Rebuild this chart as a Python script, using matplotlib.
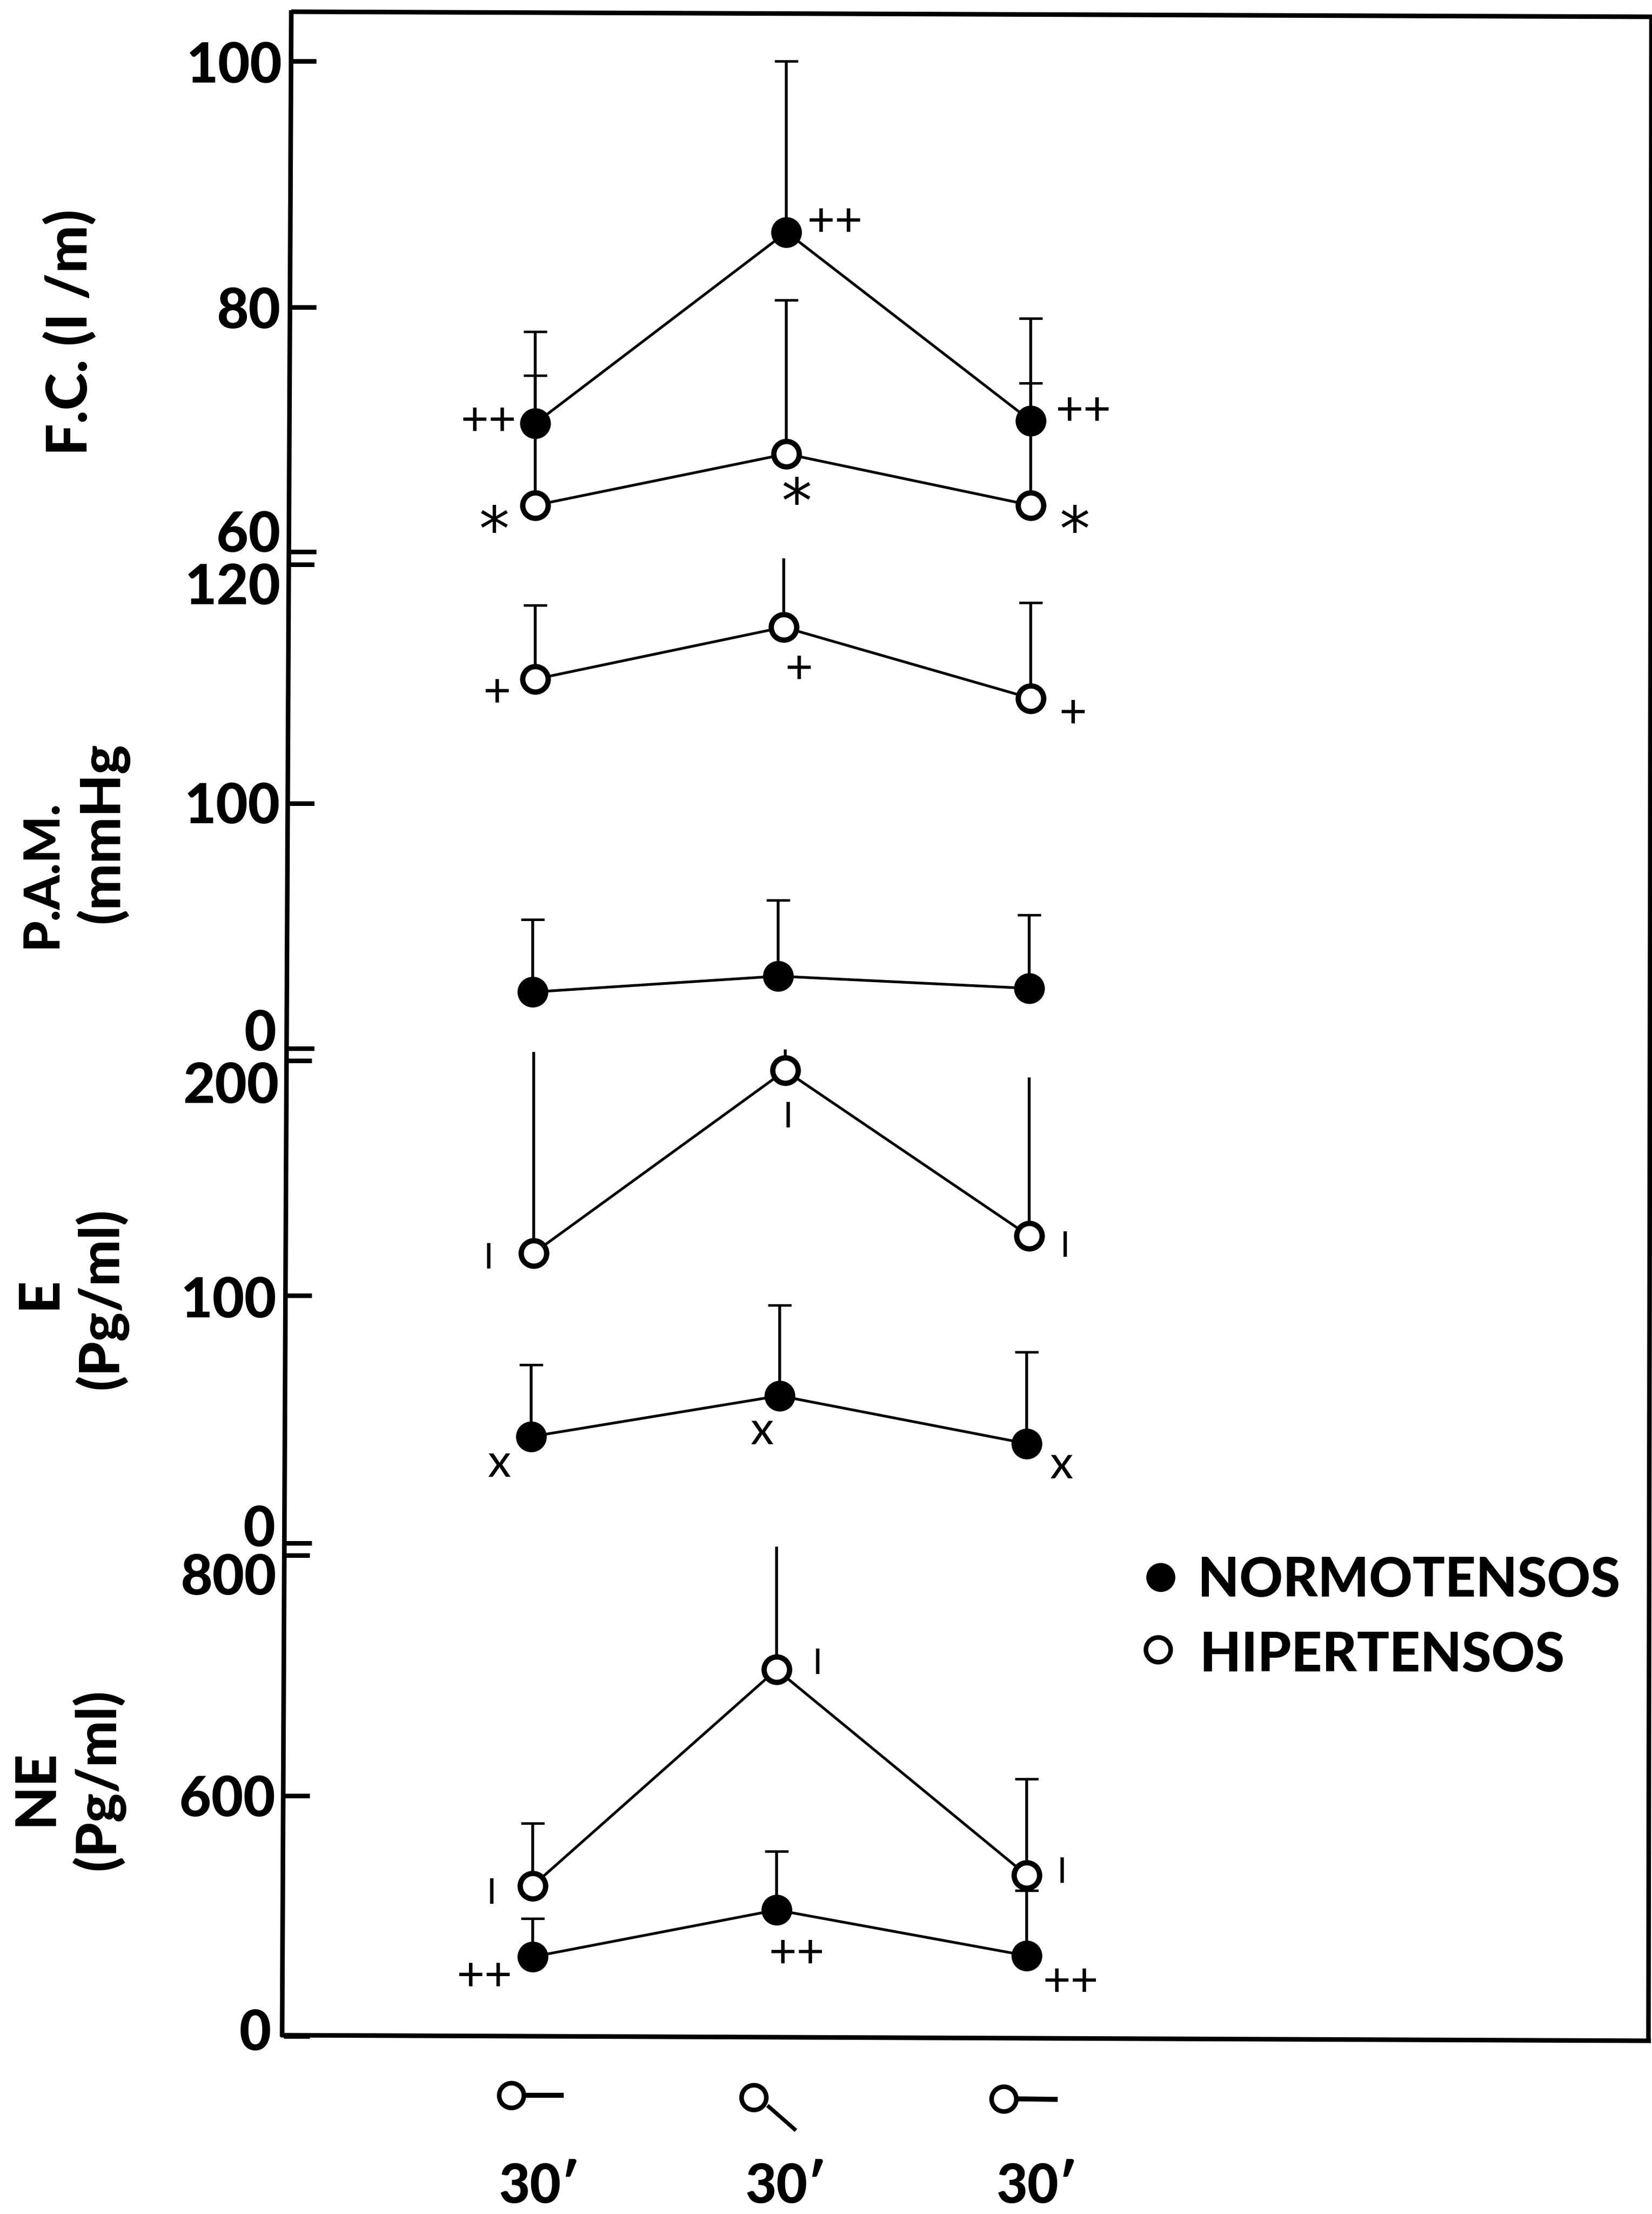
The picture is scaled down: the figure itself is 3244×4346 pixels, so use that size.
import numpy as np
import matplotlib
matplotlib.use("Agg")
import matplotlib.pyplot as plt
from matplotlib.lines import Line2D
from matplotlib.transforms import ScaledTranslation

plt.rcParams['font.family'] = ['Lato', 'DejaVu Sans']

W, H = 3244, 4346

# data: x = position 0,1,2, top = end of the error bar
fc_ticks = [100, 80, 60]
fc_labels = ['100', '80', '60']
fc_norm_x = [0.0, 1.014, 2.0]
fc_norm = [70.5, 86.1, 70.7]
fc_norm_top = [78.0, 100.0, 79.1]
fc_hip_x = [0.0, 1.014, 2.0]
fc_hip = [63.8, 68.0, 63.8]
fc_hip_top = [74.4, 80.6, 73.8]

pam_ticks = [120, 100, 80]
pam_labels = ['120', '100', '0']
pam_hip_x = [0.0, 1.003, 2.0]
pam_hip = [110.4, 114.75, 108.8]
pam_hip_top = [116.6, 120.5, 116.8]
pam_norm_x = [-0.011, 0.98, 1.994]
pam_norm = [84.6, 85.9, 84.9]
pam_norm_top = [90.5, 92.1, 90.9]

e_ticks = [200, 100, 0]
e_labels = ['200', '100', '0']
e_hip_x = [-0.006, 1.009, 1.994]
e_hip = [118.1, 195.8, 125.3]
e_hip_top = [203.6, 204.8, 192.8]
e_norm_x = [-0.017, 0.986, 1.983]
e_norm = [43, 59.5, 40.2]
e_norm_top = [72.1, 96, 77.2]

ne_ticks = [800, 600, 400]
ne_labels = ['800', '600', '0']
ne_hip_x = [-0.011, 0.974, 1.983]
ne_hip = [525, 705, 534]
ne_hip_top = [577, 807, 614]
ne_norm_x = [-0.011, 0.974, 1.983]
ne_norm = [466, 505, 467]
ne_norm_top = [498, 554, 521]

BOLD = 900


def fx(x):
    return x / W


def fy(y):
    return 1 - y / H


def put(x, y, s, size=80, weight=BOLD, **kw):
    # x, y in picture pixels, baseline anchored unless told otherwise
    kw.setdefault('ha', 'center')
    kw.setdefault('va', 'baseline')
    return fig.text(fx(x), fy(y), s, fontsize=size, fontweight=weight, color='k', **kw)


def seg(x0, y0, x1, y1, lw):
    fig.add_artist(Line2D([fx(x0), fx(x1)], [fy(y0), fy(y1)], color='k', lw=lw,
                          solid_capstyle='butt'))


def ring(x, y):
    fig.add_artist(Line2D([fx(x)], [fy(y)], ls='none', marker='o', ms=35, mfc='w', mec='k', mew=6.5))


def series(ax, x, y, top, filled, nocap=()):
    for i in range(3):
        _, caps, bars = ax.errorbar(x[i], y[i], yerr=[[0], [top[i] - y[i]]], fmt='none', ecolor='k',
                                    elinewidth=4, capsize=0 if i in nocap else 16.5, capthick=3.5,
                                    zorder=2)
        for a in list(caps) + list(bars):
            a.set_clip_on(False)
    ax.plot(x, y, color='k', lw=3.8, zorder=3, clip_on=False)
    ax.plot(x, y, ls='none', marker='o', ms=36, mew=7.5, mec='k', mfc='k' if filled else 'w',
            zorder=4, clip_on=False)


def panel(tick_px, left_px, ticks, labels, rights, bases):
    # the drawn axes are not quite even: the two halves get their own scale
    hi, mid, lo = ticks
    top_px, mid_px, bot_px = tick_px
    f = (bot_px - mid_px) / (bot_px - top_px)

    def fwd(v):
        v = np.asarray(v, dtype=float)
        return np.where(v < mid, (v - lo) / (mid - lo) * f, f + (v - mid) / (hi - mid) * (1 - f))

    def inv(t):
        t = np.asarray(t, dtype=float)
        return np.where(t < f, lo + t / f * (mid - lo), mid + (t - f) / (1 - f) * (hi - mid))

    ax = fig.add_axes([fx(left_px), fy(bot_px), fx(3238 - left_px), (bot_px - top_px) / H])
    ax.patch.set_alpha(0)
    for s in ax.spines.values():
        s.set_visible(False)
    # x=0 sits at px 1051, one step is 486.6 px
    ax.set_xlim((left_px - 1051) / 486.6, (3238 - 1051) / 486.6)
    ax.set_yscale('function', functions=(fwd, inv))
    ax.set_ylim(lo, hi)
    ax.set_xticks([])
    ax.set_yticks(ticks, labels=labels)
    ax.tick_params(axis='y', direction='in', length=37, width=6.5, pad=0, labelsize=78)
    fig.canvas.draw()
    for lab, r, b, p in zip(ax.get_yticklabels(), rights, bases, tick_px):
        lab.set_fontweight(BOLD)
        lab.set_va('baseline')
        dy = p - b
        dx = r - left_px
        lab.set_transform(lab.get_transform() + ScaledTranslation(dx / 100, dy / 100, fig.dpi_scale_trans))
    return ax


fig = plt.figure(figsize=(W / 100, H / 100), dpi=100, facecolor='w')

# frame of the scanned figure, slightly skewed
seg(572, 23, 3244, 33, 6.5)
seg(572, 20, 554, 3998, 6.5)
seg(551, 3995, 3242, 4006, 6.5)
seg(3243, 33, 3237, 4010, 6.5)

ax1 = panel([120, 603, 1083], 570, fc_ticks, fc_labels, [554, 551, 551], [162, 644, 1083])
series(ax1, fc_hip_x, fc_hip, fc_hip_top, False)
series(ax1, fc_norm_x, fc_norm, fc_norm_top, True)

ax2 = panel([1108, 1577, 2058], 566, pam_ticks, pam_labels, [551, 550, 543], [1186, 1616, 2062])
series(ax2, pam_hip_x, pam_hip, pam_hip_top, False, nocap=(1,))
series(ax2, pam_norm_x, pam_norm, pam_norm_top, True)

ax3 = panel([2082, 2543, 3029], 561, e_ticks, e_labels, [548, 543, 541], [2165, 2586, 3035])
series(ax3, e_hip_x, e_hip, e_hip_top, False, nocap=(0, 1, 2))
series(ax3, e_norm_x, e_norm, e_norm_top, True)

ax4 = panel([3053, 3525, 3997], 557, ne_ticks, ne_labels, [543, 541, 533], [3130, 3565, 4024])
series(ax4, ne_hip_x, ne_hip, ne_hip_top, False, nocap=(1,))
series(ax4, ne_norm_x, ne_norm, ne_norm_top, True)

# rotated axis titles
rot = dict(rotation=90, ha='center', va='center')
put(136, 652, 'F.C. (I /m)', **rot)
put(82, 1715, 'P.A.M.', size=70, **rot)
put(200, 1635, '(mmHg', size=78, **rot)
put(77, 2538, 'E', **rot)
put(198, 2549, '(Pg/ml)', size=78, **rot)
put(70, 3509, 'NE', **rot)
put(192, 3493, '(Pg/ml)', size=78, **rot)

# legend
fig.add_artist(Line2D([fx(2279)], [fy(3096)], ls='none', marker='o', ms=41, mfc='k', mec='k', mew=0))
ring(2274, 3238)
put(2352, 3134, 'NORMOTENSOS', size=76, ha='left')
put(2356, 3281, 'HIPERTENSOS', size=76, ha='left')

# body position symbols under the axis
ring(1004, 4113)
seg(1032, 4113, 1107, 4113, 7)
ring(1480, 4117)
seg(1507, 4133, 1563, 4182, 5.5)
ring(1971, 4120)
seg(1998, 4120, 2077, 4121, 7)
put(980, 4324, "30\u2032", size=76, ha='left')
put(1464, 4324, "30\u2032", size=76, ha='left')
put(1957, 4324, "30\u2032", size=76, ha='left')

# significance marks next to the points
for x, y, s in [(959, 842, '++'), (1639, 451, '++'), (2127, 822, '++'),
                (976, 1375, '+'), (1569, 1329, '+'), (2107, 1416, '+'),
                (951, 3895, '++'), (1564, 3850, '++'), (2102, 3906, '++')]:
    put(x, y + 12, s, size=68, weight='normal')
for x, y, s in [(970, 1040, '*'), (1564, 985, '*'), (2110, 1040, '*')]:
    put(x, y + 40, s, size=86, weight='normal', family='DejaVu Sans')
for x, y in [(959, 2465), (1547, 2188), (2091, 2442), (1605, 3261), (965, 3712), (2085, 3671)]:
    put(x, y + 25, 'I', size=50, weight='normal')
for x, y in [(981, 2875), (1497, 2811), (2085, 2878)]:
    put(x, y + 24, 'x', size=66, weight='normal')

fig.savefig('out.png', dpi=100)
